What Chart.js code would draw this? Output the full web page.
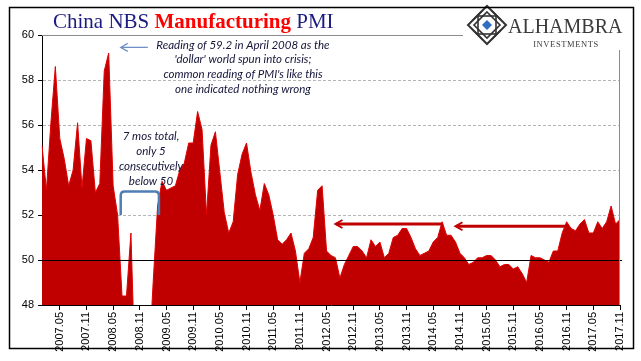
<!DOCTYPE html>
<html>
<head>
<meta charset="utf-8">
<script src="https://cdn.jsdelivr.net/npm/chart.js@4.4.0/dist/chart.umd.min.js"></script>
<style>
  html, body { margin: 0; padding: 0; background: #fff; }
  canvas { display: block; }
</style>
</head>
<body>
<canvas id="pmiChart" width="641" height="361"></canvas>
<script>
// China NBS manufacturing PMI, monthly, 2007.01 - 2017.11
const pmi2007 = [55.1, 53.1, 56.1, 58.6, 55.4, 54.5, 53.3, 54.0, 56.1, 53.2, 55.4, 55.3];
const pmi2008 = [53.0, 53.4, 58.4, 59.2, 53.3, 52.0, 48.4, 48.4, 51.2, 44.6, 38.8, 41.2];
const pmi2009 = [45.3, 49.0, 52.4, 53.5, 53.1, 53.2, 53.3, 54.0, 54.3, 55.2, 55.2, 56.6];
const pmi2010 = [55.8, 52.0, 55.1, 55.7, 53.9, 52.1, 51.2, 51.7, 53.8, 54.7, 55.2, 53.9];
const pmi2011 = [52.9, 52.2, 53.4, 52.9, 52.0, 50.9, 50.7, 50.9, 51.2, 50.4, 49.0, 50.3];
const pmi2012 = [50.5, 51.0, 53.1, 53.3, 50.4, 50.2, 50.1, 49.2, 49.8, 50.2, 50.6, 50.6];
const pmi2013 = [50.4, 50.1, 50.9, 50.6, 50.8, 50.1, 50.3, 51.0, 51.1, 51.4, 51.4, 51.0];
const pmi2014 = [50.5, 50.2, 50.3, 50.4, 50.8, 51.0, 51.7, 51.1, 51.1, 50.8, 50.3, 50.1];
const pmi2015 = [49.8, 49.9, 50.1, 50.1, 50.2, 50.2, 50.0, 49.7, 49.8, 49.8, 49.6, 49.7];
const pmi2016 = [49.4, 49.0, 50.2, 50.1, 50.1, 50.0, 49.9, 50.4, 50.4, 51.2, 51.7, 51.4];
const pmi2017 = [51.3, 51.6, 51.8, 51.2, 51.2, 51.7, 51.4, 51.7, 52.4, 51.6, 51.8];

const years = [2007, 2008, 2009, 2010, 2011, 2012, 2013, 2014, 2015, 2016, 2017];
const pmi = [].concat(pmi2007, pmi2008, pmi2009, pmi2010, pmi2011, pmi2012,
  pmi2013, pmi2014, pmi2015, pmi2016, pmi2017);

// category labels "yyyy.mm"
const months = [];
years.forEach((y) => {
  for (let m = 1; m <= 12; m++) months.push(y + "." + String(m).padStart(2, "0"));
});
months.length = pmi.length;

const labelledMonths = ["05", "11"];
const yTicks = [48, 50, 52, 54, 56, 58, 60];

const titleParts = [
  { text: "China NBS ", color: "#1c1c80", bold: false },
  { text: "Manufacturing", color: "#ff0000", bold: true },
  { text: " PMI", color: "#1c1c80", bold: false },
];
const noteCrisis = [
  "Reading of 59.2 in April 2008 as the",
  "'dollar' world spun into crisis;",
  "common reading of PMI's like this",
  "one indicated nothing wrong",
];
const noteBelow50 = ["7 mos total,", "only 5", "consecutively", "below 50"];
// flat stretches: arrow from month -> back to month, at a PMI level
const flatArrows = [
  { from: "2014.07", to: "2012.07", level: 51.6 },
  { from: "2016.11", to: "2014.10", level: 51.5 },
];

const NARROW = "'Liberation Sans Narrow', 'Liberation Sans', Arial, sans-serif";
const NOTE_FONT = "italic 11.5px Lato, 'Open Sans', sans-serif";

function isLabelled(i) {
  return labelledMonths.includes(months[i].slice(5));
}

function arrowLeft(ctx, x1, x2, y, color, w) {
  ctx.save();
  ctx.strokeStyle = color;
  ctx.lineWidth = w;
  ctx.beginPath();
  ctx.moveTo(x1, y);
  ctx.lineTo(x2 + 1, y);
  ctx.stroke();
  ctx.lineWidth = Math.max(1.2, w - 1);
  ctx.beginPath();
  ctx.moveTo(x2 + 7, y - 4);
  ctx.lineTo(x2, y);
  ctx.lineTo(x2 + 7, y + 4);
  ctx.stroke();
  ctx.restore();
}

function drawLogo(ctx, cx, cy) {
  ctx.save();
  ctx.translate(cx, cy);
  ctx.strokeStyle = "#333";
  ctx.lineWidth = 2;
  // outer diamond
  ctx.beginPath();
  ctx.moveTo(0, -19); ctx.lineTo(19, 0); ctx.lineTo(0, 19); ctx.lineTo(-19, 0);
  ctx.closePath();
  ctx.stroke();
  // star pattern
  ctx.lineWidth = 1.6;
  ctx.strokeRect(-9, -9, 18, 18);
  ctx.beginPath();
  ctx.moveTo(0, -13); ctx.lineTo(13, 0); ctx.lineTo(0, 13); ctx.lineTo(-13, 0);
  ctx.closePath();
  ctx.stroke();
  ctx.beginPath();
  ctx.moveTo(-14, -5); ctx.lineTo(-5, -14);
  ctx.moveTo(14, -5); ctx.lineTo(5, -14);
  ctx.moveTo(-14, 5); ctx.lineTo(-5, 14);
  ctx.moveTo(14, 5); ctx.lineTo(5, 14);
  ctx.stroke();
  // blue centre
  ctx.fillStyle = "#2e6fc0";
  ctx.beginPath();
  ctx.moveTo(0, -5); ctx.lineTo(5, 0); ctx.lineTo(0, 5); ctx.lineTo(-5, 0);
  ctx.closePath();
  ctx.fill();
  ctx.restore();

  ctx.save();
  ctx.fillStyle = "#3a3a3a";
  ctx.font = "20px 'Liberation Serif', serif";
  ctx.textBaseline = "alphabetic";
  ctx.fillText("ALHAMBRA", cx + 21, cy + 8);
  ctx.font = "8.5px 'Liberation Serif', serif";
  ctx.textAlign = "center";
  if ("letterSpacing" in ctx) ctx.letterSpacing = "0.6px";
  ctx.fillText("INVESTMENTS", cx + 79, cy + 22);
  ctx.restore();
}

const decor = {
  id: "decor",
  afterDatasetsDraw(chart) {
    const { ctx, chartArea: a, scales } = chart;
    const y50 = Math.round(scales.y.getPixelForValue(50)) + 0.5;
    ctx.save();
    ctx.strokeStyle = "#000";
    ctx.lineWidth = 1;
    ctx.beginPath();
    ctx.moveTo(a.left, y50);
    ctx.lineTo(a.right + 2, y50);
    ctx.stroke();
    // plot frame (top / right), partly hidden by logo
    ctx.strokeStyle = "#8c8c8c";
    ctx.beginPath();
    ctx.moveTo(a.left, Math.round(a.top) + 0.5);
    ctx.lineTo(463, Math.round(a.top) + 0.5);
    ctx.moveTo(Math.round(a.right) - 0.5, 50);
    ctx.lineTo(Math.round(a.right) - 0.5, a.bottom);
    ctx.stroke();
    ctx.restore();
  },
  afterDraw(chart) {
    const { ctx, scales } = chart;
    const x = scales.x, y = scales.y;

    // title
    ctx.save();
    ctx.textBaseline = "alphabetic";
    let tx = 53;
    titleParts.forEach((p) => {
      ctx.font = (p.bold ? "bold " : "") + "21px 'Liberation Serif', serif";
      ctx.fillStyle = p.color;
      ctx.fillText(p.text, tx, 28);
      tx += ctx.measureText(p.text).width;
    });
    ctx.restore();

    drawLogo(ctx, 487, 25);

    // crisis note + arrow
    ctx.save();
    ctx.font = NOTE_FONT;
    ctx.fillStyle = "#15153a";
    ctx.textAlign = "center";
    ctx.textBaseline = "middle";
    noteCrisis.forEach((t, i) => ctx.fillText(t, 243, 45 + i * 14.7));
    noteBelow50.forEach((t, i) => ctx.fillText(t, 151, 136 + i * 15));
    ctx.restore();

    const aY = y.getPixelForValue(59.45);
    arrowLeft(ctx, x.getPixelForValue(23.8), x.getPixelForValue(17.7), aY, "#6f90c4", 1.3);

    // bracket over the sub-50 months
    const bl = x.getPixelForValue(17.7), br = x.getPixelForValue(26.3);
    const bt = y.getPixelForValue(53.05), bb = y.getPixelForValue(52.0);
    ctx.save();
    ctx.strokeStyle = "#4f7db6";
    ctx.lineWidth = 2.5;
    ctx.beginPath();
    ctx.moveTo(bl, bb);
    ctx.lineTo(bl, bt + 4);
    ctx.quadraticCurveTo(bl, bt, bl + 4, bt);
    ctx.lineTo(br - 4, bt);
    ctx.quadraticCurveTo(br, bt, br, bt + 4);
    ctx.lineTo(br, bb);
    ctx.stroke();
    ctx.restore();

    // flat-reading arrows
    flatArrows.forEach((f) => {
      const yy = y.getPixelForValue(f.level);
      arrowLeft(ctx, x.getPixelForValue(months.indexOf(f.from)),
        x.getPixelForValue(months.indexOf(f.to)), yy, "#c00000", 3);
    });

    // outer frame
    ctx.save();
    ctx.strokeStyle = "#000";
    ctx.lineWidth = 1.5;
    ctx.strokeRect(9.5, 7.5, 624, 341);
    ctx.restore();
  },
};

const ctx = document.getElementById("pmiChart").getContext("2d");
new Chart(ctx, {
  type: "line",
  data: {
    labels: months,
    datasets: [
      {
        label: "NBS Manufacturing PMI",
        data: pmi,
        borderColor: "#e00000",
        borderWidth: 1,
        backgroundColor: "#c00000",
        fill: "start",
        pointRadius: 0,
        tension: 0,
      },
    ],
  },
  options: {
    responsive: false,
    animation: false,
    events: [],
    layout: { padding: { left: 0, top: 35, right: 21, bottom: 0 } },
    plugins: { legend: { display: false }, tooltip: { enabled: false } },
    scales: {
      x: {
        type: "category",
        offset: false,
        afterFit: (s) => { s.height = 56; },
        border: { color: "#000", width: 1 },
        grid: {
          drawOnChartArea: false,
          tickLength: 5,
          tickColor: (c) => (isLabelled(c.index) ? "#000" : "rgba(0,0,0,0)"),
        },
        ticks: {
          autoSkip: false,
          minRotation: 90,
          maxRotation: 90,
          padding: 2,
          color: "#000",
          font: { family: NARROW, size: 11 },
          callback: (v, i) => (isLabelled(i) ? months[i] : ""),
        },
      },
      y: {
        min: 48,
        max: 60,
        afterFit: (s) => { s.width = 42; },
        afterBuildTicks: (s) => { s.ticks = yTicks.map((v) => ({ value: v })); },
        border: { color: "#000", width: 1, dash: [3, 2] },
        grid: {
          color: (c) => {
            const v = c.tick && c.tick.value;
            return v === 48 || v === 50 || v === 60 ? "rgba(0,0,0,0)" : "#b4b4b4";
          },
          tickColor: "#000",
          tickLength: 4,
        },
        ticks: {
          padding: 4,
          color: "#000",
          font: { family: NARROW, size: 11 },
        },
      },
    },
  },
  plugins: [decor],
});
</script>
</body>
</html>
